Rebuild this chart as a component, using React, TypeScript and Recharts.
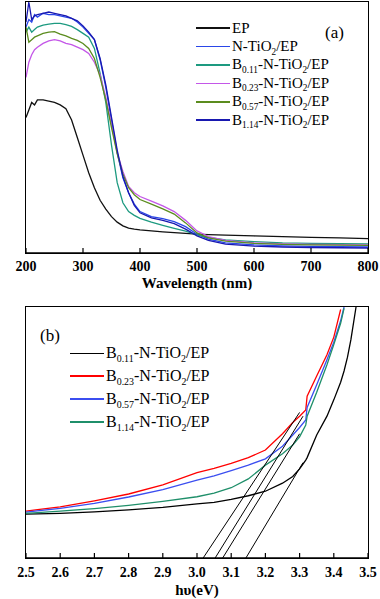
import React from 'react';
import { LineChart, Line, XAxis, YAxis } from 'recharts';

const FONT = "'Liberation Serif', 'DejaVu Serif', serif";

// ---- panel (a): UV-vis absorbance ----
const wavelength = [200, 205, 210, 215, 220, 230, 240, 250, 260, 270, 280, 290, 300, 310, 320, 330, 340, 350, 360, 370, 380, 390, 400, 420, 440, 460, 480, 500, 520, 550, 600, 650, 700, 750, 800];
const absEP = [0.54, 0.57, 0.6, 0.59, 0.61, 0.61, 0.605, 0.6, 0.59, 0.575, 0.53, 0.46, 0.39, 0.32, 0.26, 0.21, 0.175, 0.145, 0.123, 0.108, 0.099, 0.095, 0.092, 0.088, 0.084, 0.081, 0.078, 0.075, 0.073, 0.071, 0.068, 0.065, 0.062, 0.06, 0.057];
const absNTiO2 = [0.9, 0.93, 0.92, 0.95, 0.94, 0.955, 0.95, 0.95, 0.945, 0.94, 0.935, 0.92, 0.9, 0.875, 0.85, 0.77, 0.66, 0.53, 0.4, 0.3, 0.24, 0.195, 0.165, 0.145, 0.137, 0.125, 0.105, 0.075, 0.055, 0.04, 0.032, 0.028, 0.026, 0.025, 0.024];
const absB011 = [0.88, 0.9, 0.88, 0.89, 0.9, 0.908, 0.912, 0.915, 0.915, 0.91, 0.903, 0.89, 0.875, 0.86, 0.815, 0.716, 0.6, 0.43, 0.28, 0.2, 0.165, 0.15, 0.138, 0.123, 0.11, 0.098, 0.087, 0.072, 0.062, 0.052, 0.045, 0.04, 0.038, 0.037, 0.036];
const absB023 = [0.7, 0.76, 0.79, 0.81, 0.82, 0.835, 0.845, 0.85, 0.845, 0.835, 0.83, 0.82, 0.81, 0.795, 0.76, 0.71, 0.62, 0.51, 0.4, 0.325, 0.265, 0.24, 0.225, 0.207, 0.188, 0.165, 0.13, 0.088, 0.065, 0.05, 0.04, 0.036, 0.034, 0.033, 0.032];
const absB057 = [0.9, 0.84, 0.85, 0.86, 0.865, 0.875, 0.88, 0.882, 0.872, 0.865, 0.855, 0.847, 0.835, 0.815, 0.775, 0.7, 0.61, 0.5, 0.395, 0.315, 0.26, 0.232, 0.213, 0.195, 0.176, 0.155, 0.12, 0.08, 0.06, 0.047, 0.038, 0.034, 0.032, 0.031, 0.03];
const absB114 = [0.92, 1.0, 0.93, 0.945, 0.95, 0.955, 0.96, 0.955, 0.95, 0.945, 0.935, 0.925, 0.905, 0.88, 0.85, 0.775, 0.67, 0.54, 0.41, 0.305, 0.24, 0.19, 0.16, 0.14, 0.13, 0.117, 0.095, 0.068, 0.05, 0.035, 0.027, 0.024, 0.022, 0.021, 0.02];
const wavelengthTicks = [200, 300, 400, 500, 600, 700, 800];

// ---- panel (b): Tauc plot ----
const energy = [2.5, 2.6, 2.7, 2.8, 2.9, 3.0, 3.05, 3.1, 3.15, 3.2, 3.25, 3.28, 3.3, 3.318, 3.322, 3.35, 3.38, 3.4, 3.42, 3.43, 3.44, 3.45, 3.465];
const taucB011 = [0.175, 0.178, 0.184, 0.192, 0.202, 0.216, 0.222, 0.234, 0.248, 0.266, 0.298, 0.325, 0.355, 0.39, 0.4, 0.49, 0.565, 0.63, 0.7, 0.745, 0.8, 0.87, 1.0];
const taucB023 = [0.187, 0.204, 0.228, 0.255, 0.291, 0.34, 0.357, 0.377, 0.4, 0.43, 0.495, 0.54, 0.565, 0.59, 0.645, 0.725, 0.81, 0.88, 0.99, null, null, null, null];
const taucB057 = [0.183, 0.198, 0.218, 0.243, 0.272, 0.31, 0.327, 0.348, 0.37, 0.395, 0.445, 0.49, 0.52, 0.55, 0.6, 0.69, 0.79, 0.86, 0.945, 1.0, null, null, null];
const taucB114 = [0.178, 0.187, 0.197, 0.21, 0.226, 0.244, 0.258, 0.28, 0.315, 0.37, 0.415, 0.45, 0.483, 0.53, 0.565, 0.66, 0.77, 0.85, 0.935, 0.995, null, null, null];
const tangentB011 = [{ e: 3.143, v: 0 }, { e: 3.31, v: 0.38 }];
const tangentB023 = [{ e: 3.018, v: 0 }, { e: 3.3, v: 0.58 }];
const tangentB057 = [{ e: 3.053, v: 0 }, { e: 3.31, v: 0.565 }];
const tangentB114 = [{ e: 3.075, v: 0 }, { e: 3.3, v: 0.495 }];
const energyTicks = [2.5, 2.6, 2.7, 2.8, 2.9, 3.0, 3.1, 3.2, 3.3, 3.4, 3.5];

// names use | to mark subscript parts (odd positions)
const seriesA = [
  { key: 'ep', name: 'EP', color: '#111111', values: absEP },
  { key: 'n', name: 'N-TiO|2|/EP', color: '#2a46e8', values: absNTiO2 },
  { key: 'b011', name: 'B|0.11|-N-TiO|2|/EP', color: '#1d9a80', values: absB011 },
  { key: 'b023', name: 'B|0.23|-N-TiO|2|/EP', color: '#c457e8', values: absB023 },
  { key: 'b057', name: 'B|0.57|-N-TiO|2|/EP', color: '#5b8c1e', values: absB057 },
  { key: 'b114', name: 'B|1.14|-N-TiO|2|/EP', color: '#1818b0', values: absB114 },
];

const seriesB = [
  { key: 'b011', name: 'B|0.11|-N-TiO|2|/EP', color: '#000000', values: taucB011, tangent: tangentB011 },
  { key: 'b023', name: 'B|0.23|-N-TiO|2|/EP', color: '#ff0000', values: taucB023, tangent: tangentB023 },
  { key: 'b057', name: 'B|0.57|-N-TiO|2|/EP', color: '#3b4ef0', values: taucB057, tangent: tangentB057 },
  { key: 'b114', name: 'B|1.14|-N-TiO|2|/EP', color: '#1f8f6a', values: taucB114, tangent: tangentB114 },
];

const dataA = wavelength.map((w, i) => {
  const row: any = { w };
  seriesA.forEach((s) => (row[s.key] = s.values[i]));
  return row;
});

const dataB = energy.map((e, i) => {
  const row: any = { e };
  seriesB.forEach((s) => (row[s.key] = s.values[i]));
  return row;
});

const SubName = ({ name }: { name: string }) => (
  <span>
    {name.split('|').map((part, i) =>
      i % 2 === 1 ? (
        <span key={i} style={{ fontSize: '0.62em', position: 'relative', top: '0.38em' }}>{part}</span>
      ) : (
        <span key={i}>{part}</span>
      )
    )}
  </span>
);

const InTick = (props: any) => {
  const { x, y, payload, digits, gap } = props;
  const v = digits ? Number(payload.value).toFixed(digits) : payload.value;
  return (
    <g>
      <line x1={x} x2={x} y1={y} y2={y - 5} stroke="#000" strokeWidth={1.2} />
      <text x={x} y={y + gap} textAnchor="middle" dominantBaseline="central" fontFamily={FONT} fontWeight="bold" fontSize={14} fill="#000">
        {v}
      </text>
    </g>
  );
};

const frame = { stroke: '#000', strokeWidth: 1.5 };

const PanelLegend = ({ items, left, top, rowH, fontSize }: any) => (
  <div style={{ position: 'absolute', left, top, fontFamily: FONT, fontSize, color: '#000' }}>
    {items.map((s: any) => (
      <div key={s.key} style={{ display: 'flex', alignItems: 'center', height: rowH, whiteSpace: 'nowrap' }}>
        <span style={{ display: 'inline-block', width: 34, height: 1.5, background: s.color, marginRight: 2 }} />
        <SubName name={s.name} />
      </div>
    ))}
  </div>
);

// plot box outline drawn around the 342x251 plot area
const Box = ({ top }: { top: number }) => (
  <div style={{ position: 'absolute', left: 25, top: top - 1, width: 344, height: 253, border: '1.5px solid #000', boxSizing: 'border-box', pointerEvents: 'none' }} />
);

export default function App() {
  return (
    <div style={{ position: 'absolute', left: 0, top: 0, width: 380, height: 599, background: '#fff', fontFamily: FONT }}>
      {/* (a) */}
      <div style={{ position: 'absolute', left: 0, top: 0 }}>
        <LineChart width={380} height={290} data={dataA} margin={{ top: 2, right: 12, left: 26, bottom: 0 }}>
          <XAxis
            dataKey="w"
            type="number"
            domain={[200, 800]}
            ticks={wavelengthTicks}
            height={37}
            tickSize={0}
            tickMargin={0}
            tickLine={false}
            axisLine={frame}
            tick={<InTick gap={13} />}
            label={(p: any) => (
              <text x={p.viewBox.x + p.viewBox.width / 2} y={p.viewBox.y + 30} textAnchor="middle" dominantBaseline="central" fontFamily={FONT} fontWeight="bold" fontSize={15}>
                Wavelength (nm)
              </text>
            )}
          />
          <YAxis
            type="number"
            domain={[0, 1]}
            width={0}
            tick={false}
            tickLine={false}
            axisLine={frame}
            label={(p: any) => {
              const x = p.viewBox.x - 15;
              const y = p.viewBox.y + p.viewBox.height / 2 - 7;
              return (
                <text x={x} y={y} transform={`rotate(-90, ${x}, ${y})`} textAnchor="middle" dominantBaseline="central" fontFamily={FONT} fontWeight="bold" fontSize={14}>
                  Absorbance (a.u.)
                </text>
              );
            }}
          />
          {seriesA.map((s) => (
            <Line key={s.key} type="linear" dataKey={s.key} stroke={s.color} strokeWidth={1.3} dot={false} isAnimationActive={false} />
          ))}
        </LineChart>
        <Box top={2} />
        <PanelLegend items={seriesA} left={196} top={19} rowH={18.4} fontSize={15} />
        <div style={{ position: 'absolute', left: 325, top: 23, fontSize: 17 }}>(a)</div>
      </div>

      {/* (b) */}
      <div style={{ position: 'absolute', left: 0, top: 290 }}>
        <LineChart width={380} height={309} data={dataB} margin={{ top: 17, right: 12, left: 26, bottom: 0 }}>
          <XAxis
            dataKey="e"
            type="number"
            domain={[2.5, 3.5]}
            ticks={energyTicks}
            height={41}
            tickSize={0}
            tickMargin={0}
            tickLine={false}
            axisLine={frame}
            tick={<InTick gap={14} digits={1} />}
            label={(p: any) => (
              <text x={p.viewBox.x + p.viewBox.width / 2} y={p.viewBox.y + 32} textAnchor="middle" dominantBaseline="central" fontFamily={FONT} fontWeight="bold" fontSize={15}>
                hυ(eV)
              </text>
            )}
          />
          <YAxis
            type="number"
            domain={[0, 1]}
            width={0}
            tick={false}
            tickLine={false}
            axisLine={frame}
            label={(p: any) => {
              const x = p.viewBox.x - 16;
              const y = p.viewBox.y + p.viewBox.height / 2 - 15;
              return (
                <text x={x} y={y} transform={`rotate(-90, ${x}, ${y})`} textAnchor="middle" dominantBaseline="central" fontFamily={FONT} fontWeight="bold" fontSize={14}>
                  (Ahυ)<tspan dy={-5} fontSize={9}>2</tspan>
                  <tspan dy={5}> (eV)</tspan>
                  <tspan dy={-5} fontSize={9}>2</tspan>
                </text>
              );
            }}
          />
          {seriesB.map((s) => (
            <Line key={s.key} type="linear" dataKey={s.key} stroke={s.color} strokeWidth={1.3} dot={false} isAnimationActive={false} />
          ))}
          {seriesB.map((s) => (
            <Line key={`t-${s.key}`} type="linear" data={s.tangent} dataKey="v" stroke="#000" strokeWidth={1} dot={false} legendType="none" isAnimationActive={false} />
          ))}
        </LineChart>
        <Box top={17} />
        <PanelLegend items={seriesB} left={70} top={52} rowH={22.8} fontSize={16} />
        <div style={{ position: 'absolute', left: 40, top: 36, fontSize: 17 }}>(b)</div>
      </div>
    </div>
  );
}
